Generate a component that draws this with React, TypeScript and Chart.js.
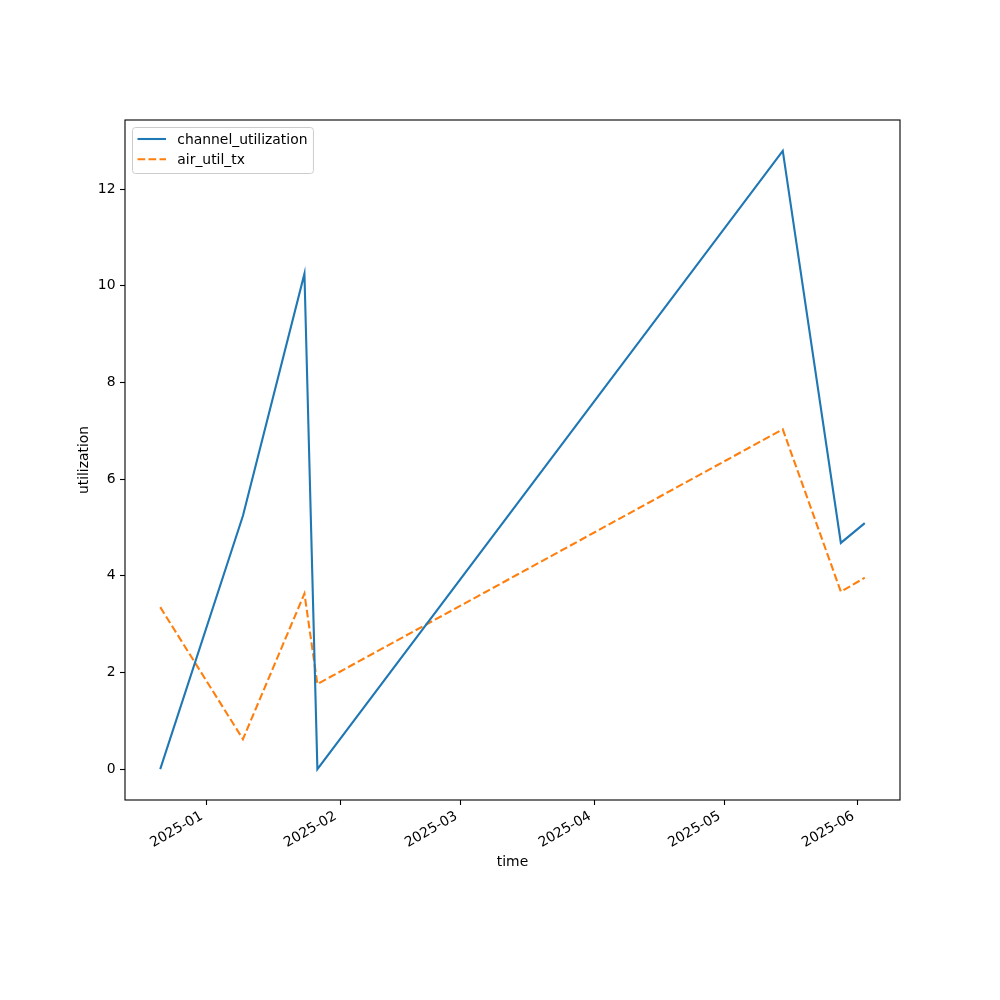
import React, { useEffect, useRef } from "react";
import { Chart, registerables } from "chart.js";

Chart.register(...registerables);

// ---- data ----
const times = [
  "2024-12-21T08:00",
  "2025-01-09T12:00",
  "2025-01-23T18:00",
  "2025-01-26T18:00",
  "2025-05-14T14:00",
  "2025-05-28T01:00",
  "2025-06-02T14:00",
];
const channelUtilization = [0, 5.24, 10.25, 0, 12.79, 4.68, 5.09];
const airUtilTx = [3.35, 0.62, 3.63, 1.76, 7.03, 3.67, 3.96];
const xTickLabels = ["2025-01", "2025-02", "2025-03", "2025-04", "2025-05", "2025-06"];
const yTickValues = [0, 2, 4, 6, 8, 10, 12];
const seriesNames = ["channel_utilization", "air_util_tx"];
const xTitle = "time";
const yTitle = "utilization";

const BLUE = "#1f77b4";
const ORANGE = "#ff7f0e";
const FONT = "'DejaVu Sans', sans-serif";
const FS = 13.9;

const toMs = (s: string) => Date.parse(s + "Z");
const monthMs = (s: string) => Date.parse(s + "-01T00:00:00Z");

export default function App() {
  const ref = useRef<HTMLCanvasElement | null>(null);

  useEffect(() => {
    const canvas = ref.current;
    if (!canvas) return;
    const xs = times.map(toMs);
    const xMin0 = Math.min(...xs);
    const xMax0 = Math.max(...xs);
    const xm = (xMax0 - xMin0) * 0.05;
    const allY = [...channelUtilization, ...airUtilTx];
    const yMin0 = Math.min(...allY);
    const yMax0 = Math.max(...allY);
    const ym = (yMax0 - yMin0) * 0.05;

    const frame = {
      id: "frame",
      afterDraw(chart: any) {
        const { ctx, chartArea: a } = chart;
        ctx.save();
        ctx.strokeStyle = "#000";
        ctx.lineWidth = 1.1;
        ctx.strokeRect(a.left, a.top, a.right - a.left, a.bottom - a.top);
        ctx.restore();
      },
    };

    const legend = {
      id: "mplLegend",
      afterDatasetsDraw(chart: any) {
        const { ctx, chartArea: a } = chart;
        ctx.save();
        ctx.font = `${FS}px ${FONT}`;
        const left = a.left + 7.5;
        const top = a.top + 7.5;
        const textX = left + 44.8;
        const maxW = Math.max(...seriesNames.map((n) => ctx.measureText(n).width));
        const w = textX - left + maxW + 6;
        const h = 46;
        const r = 3;
        ctx.beginPath();
        ctx.moveTo(left + r, top);
        ctx.lineTo(left + w - r, top);
        ctx.arcTo(left + w, top, left + w, top + r, r);
        ctx.lineTo(left + w, top + h - r);
        ctx.arcTo(left + w, top + h, left + w - r, top + h, r);
        ctx.lineTo(left + r, top + h);
        ctx.arcTo(left, top + h, left, top + h - r, r);
        ctx.lineTo(left, top + r);
        ctx.arcTo(left, top, left + r, top, r);
        ctx.closePath();
        ctx.fillStyle = "rgba(255,255,255,0.8)";
        ctx.fill();
        ctx.strokeStyle = "#cccccc";
        ctx.lineWidth = 1;
        ctx.stroke();
        const rows = [top + 11.5, top + 31.8];
        const colors = [BLUE, ORANGE];
        const dashes = [[], [7.7, 3.3]];
        rows.forEach((y, i) => {
          ctx.beginPath();
          ctx.setLineDash(dashes[i]);
          ctx.strokeStyle = colors[i];
          ctx.lineWidth = 2.1;
          ctx.moveTo(left + 5, y);
          ctx.lineTo(left + 33.5, y);
          ctx.stroke();
          ctx.setLineDash([]);
          ctx.fillStyle = "#000";
          ctx.textBaseline = "middle";
          ctx.textAlign = "left";
          ctx.fillText(seriesNames[i], textX, y + 1.5);
        });
        ctx.restore();
      },
    };

    const chart = new Chart(canvas, {
      type: "line",
      data: {
        datasets: [
          {
            label: seriesNames[0],
            data: xs.map((x, i) => ({ x, y: channelUtilization[i] })),
            borderColor: BLUE,
            borderWidth: 2.1,
            pointRadius: 0,
            fill: false,
            tension: 0,
          },
          {
            label: seriesNames[1],
            data: xs.map((x, i) => ({ x, y: airUtilTx[i] })),
            borderColor: ORANGE,
            borderWidth: 2.1,
            borderDash: [7.7, 3.3],
            pointRadius: 0,
            fill: false,
            tension: 0,
          },
        ],
      },
      options: {
        responsive: false,
        animation: false,
        devicePixelRatio: 1,
        layout: { padding: { left: 72.5, right: 100, top: 120, bottom: 125 } },
        plugins: { legend: { display: false }, tooltip: { enabled: false } },
        scales: {
          x: {
            type: "linear",
            min: xMin0 - xm,
            max: xMax0 + xm,
            afterBuildTicks: (scale: any) => {
              scale.ticks = xTickLabels.map((l) => ({ value: monthMs(l), label: l }));
            },
            afterFit: (scale: any) => {
              scale.height = 75;
            },
            ticks: {
              autoSkip: false,
              minRotation: 30,
              maxRotation: 30,
              padding: 3,
              labelOffset: -4.5,
              color: "#000",
              font: { family: FONT, size: FS },
              callback: function (this: any, value: any) {
                const i = xTickLabels.findIndex((l) => monthMs(l) === value);
                return i >= 0 ? xTickLabels[i] : "";
              },
            },
            grid: {
              display: true,
              drawOnChartArea: false,
              drawTicks: true,
              tickLength: 5,
              tickColor: "#000",
              tickWidth: 1.1,
            },
            border: { display: false },
            title: {
              display: true,
              text: xTitle,
              color: "#000",
              font: { family: FONT, size: FS },
              padding: { top: 4, bottom: 4 },
            },
          },
          y: {
            type: "linear",
            min: yMin0 - ym,
            max: yMax0 + ym,
            afterBuildTicks: (scale: any) => {
              scale.ticks = yTickValues.map((v) => ({ value: v }));
            },
            afterFit: (scale: any) => {
              scale.width = 52.5;
            },
            ticks: {
              padding: 4.5,
              color: "#000",
              font: { family: FONT, size: FS },
              callback: (v: any) => String(v),
            },
            grid: {
              display: true,
              drawOnChartArea: false,
              drawTicks: true,
              tickLength: 5,
              tickColor: "#000",
              tickWidth: 1.1,
            },
            border: { display: false },
            title: {
              display: true,
              text: yTitle,
              color: "#000",
              font: { family: FONT, size: FS },
              padding: { top: 4, bottom: 4 },
            },
          },
        },
      },
      plugins: [frame, legend],
    } as any);

    return () => chart.destroy();
  }, []);

  return (
    <div style={{ position: "absolute", left: 0, top: 0, width: 1000, height: 1000, background: "#fff" }}>
      <canvas ref={ref} width={1000} height={1000} style={{ display: "block" }} />
    </div>
  );
}
